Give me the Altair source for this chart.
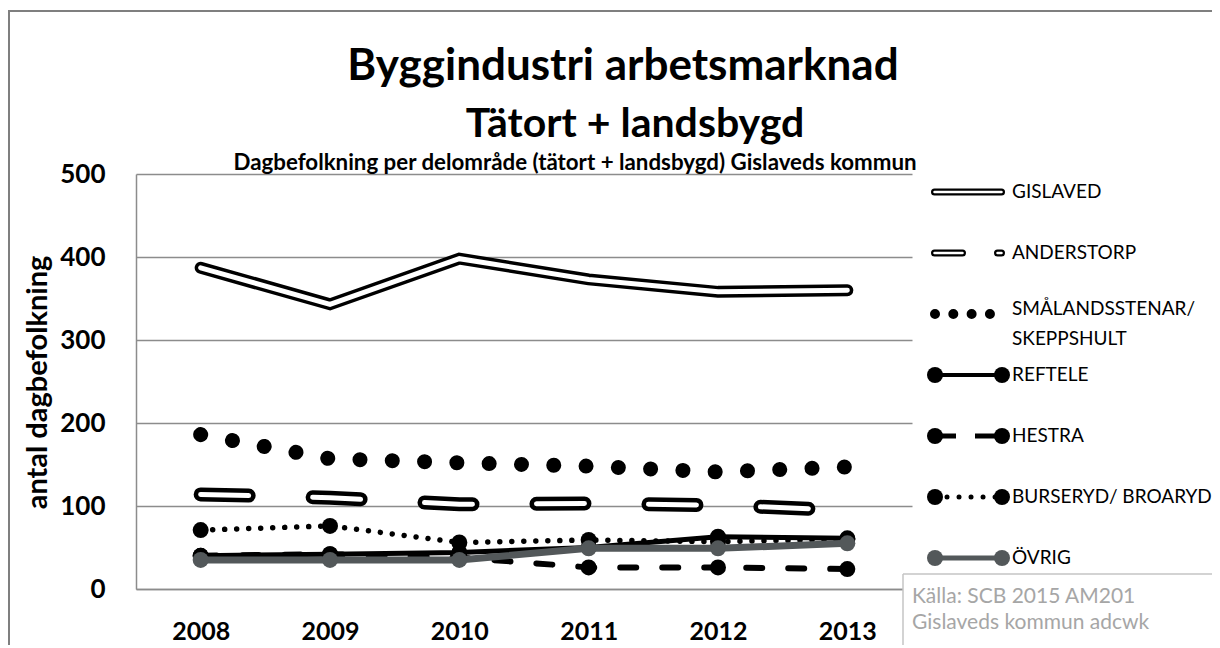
import altair as alt
import pandas as pd

# ---------------- data ----------------
years = ["2008", "2009", "2010", "2011", "2012", "2013"]
gislaved = [387, 343, 398, 373, 358, 360]
anderstorp = [114, 110, 102, 103, 101, 95]
smalandsstenar = [186, 157, 152, 148, 141, 147]
reftele = [40, 42, 44, 50, 63, 61]
hestra = [40, 42, 38, 26, 26, 24]
burseryd = [71, 76, 56, 59, 57, 60]
ovrig = [35, 35, 35, 49, 49, 55]

series_keys = ["GISLAVED", "ANDERSTORP", "SMÅLANDSSTENAR", "REFTELE", "HESTRA", "BURSERYD", "ÖVRIG"]
legend_labels = ["GISLAVED", "ANDERSTORP", "SMÅLANDSSTENAR/\nSKEPPSHULT", "REFTELE", "HESTRA",
                 "BURSERYD/ BROARYD", "ÖVRIG"]
y_ticks = [0, 100, 200, 300, 400, 500]

title_line1 = "Byggindustri arbetsmarknad"
title_line2 = "Tätort + landsbygd"
subtitle = "Dagbefolkning per delområde (tätort + landsbygd) Gislaveds kommun"
y_title = "antal dagbefolkning"
source_line1 = "Källa: SCB 2015 AM201"
source_line2 = "Gislaveds kommun adcwk"

values_by_series = [gislaved, anderstorp, smalandsstenar, reftele, hestra, burseryd, ovrig]
rows = []
for key, vals in zip(series_keys, values_by_series):
    for yr, v in zip(years, vals):
        rows.append({"series": key, "year": yr, "value": v})
df = pd.DataFrame(rows)
leg_df = pd.DataFrame({"series": series_keys, "label": legend_labels})
one = pd.DataFrame({"a": [0]})

FONT = "Lato"
BLACK = "#000000"
GREY = "#53585a"

# ---------------- scales / axes ----------------
X = alt.X("year:O", scale=alt.Scale(type="point", padding=0.5),
          axis=alt.Axis(title=None, labelAngle=0, labelFont=FONT, labelFontSize=25,
                        labelFontWeight="bold", labelColor=BLACK, labelPadding=42,
                        labelBaseline="middle", ticks=False, domainColor="#8c8c8c",
                        domainWidth=1.5, grid=False))
Y = alt.Y("value:Q", scale=alt.Scale(domain=[0, 500], nice=False),
          axis=alt.Axis(values=y_ticks, title=y_title, titleFont=FONT, titleFontSize=29,
                        titleFontWeight="bold", titleColor=BLACK, titleAngle=270,
                        titleX=-99, titleY=208, titleAlign="center", titleBaseline="middle",
                        labelFont=FONT, labelFontSize=26, labelFontWeight="bold",
                        labelColor=BLACK, labelPadding=31, ticks=False,
                        domainColor="#8c8c8c", domainWidth=1.5,
                        gridColor="#8c8c8c", gridWidth=1.5))

base = alt.Chart(df)


def sel(name):
    return base.transform_filter(alt.datum.series == name)


def line(name, **kw):
    return sel(name).mark_line(**kw).encode(x=X, y=Y)


def pts(name, color, size=256):
    return sel(name).mark_point(filled=True, shape="circle", size=size, color=color,
                                opacity=1, strokeWidth=0).encode(x=X, y=Y)


def hrule(x1, x2, y, color, width):
    return alt.Chart(one).mark_rule(color=color, strokeWidth=width).encode(
        x=alt.value(x1), x2=alt.value(x2), y=alt.value(y))


def vrule(x, y1, y2, color, width):
    return alt.Chart(one).mark_rule(color=color, strokeWidth=width).encode(
        x=alt.value(x), y=alt.value(y1), y2=alt.value(y2))


data_layers = alt.layer(
    hrule(-128, 1300, -163, "#7f7f7f", 2),
    vrule(-127, -164, 700, "#7f7f7f", 2),
    line("GISLAVED", color=BLACK, strokeWidth=12, strokeJoin="miter", strokeCap="round"),
    line("GISLAVED", color="white", strokeWidth=5, strokeJoin="miter", strokeCap="round"),
    line("ANDERSTORP", color=BLACK, strokeWidth=14, strokeCap="round", strokeDash=[48, 64]),
    line("ANDERSTORP", color="white", strokeWidth=5, strokeCap="round", strokeDash=[48, 64]),
    line("SMÅLANDSSTENAR", color=BLACK, strokeWidth=15, strokeCap="round", strokeDash=[0.01, 32.3]),
    line("REFTELE", color=BLACK, strokeWidth=5),
    pts("REFTELE", BLACK),
    line("HESTRA", color=BLACK, strokeWidth=6, strokeCap="round", strokeDash=[16, 26]),
    pts("HESTRA", BLACK),
    line("BURSERYD", color=BLACK, strokeWidth=5.5, strokeCap="round", strokeDash=[0.01, 12]),
    pts("BURSERYD", BLACK),
    line("ÖVRIG", color=GREY, strokeWidth=7),
    pts("ÖVRIG", GREY),
)

# ---------------- legend ----------------
YL = alt.Y("series:N", scale=alt.Scale(type="point", padding=0, domain=series_keys, range=[18, 384]),
           axis=None)
lbase = alt.Chart(leg_df)


def lsel(name):
    return lbase.transform_filter(alt.datum.series == name)


def lrule(name, x1, x2, **kw):
    return lsel(name).mark_rule(**kw).encode(x=alt.value(x1), x2=alt.value(x2), y=YL)


def lpt(name, xpos, color):
    return lsel(name).mark_point(filled=True, shape="circle", size=256, color=color,
                                 opacity=1, strokeWidth=0).encode(x=alt.value(xpos), y=YL)


src_fill = alt.Chart(one).mark_rect(fill="white").encode(
    x=alt.value(767), x2=alt.value(1300), y=alt.value(400), y2=alt.value(700))


def free_text(txt, x, y, size, weight="bold", color=BLACK, align="center"):
    return alt.Chart(one).mark_text(font=FONT, fontSize=size, fontWeight=weight, color=color,
                                    align=align, baseline="middle").encode(
        x=alt.value(x), y=alt.value(y), text=alt.value(txt))


single = lbase.transform_filter(alt.datum.series != "SMÅLANDSSTENAR").mark_text(
    font=FONT, fontSize=19, color=BLACK, align="left", baseline="middle").encode(
    x=alt.value(876), y=YL, text="label:N")
multi = lsel("SMÅLANDSSTENAR").mark_text(
    font=FONT, fontSize=19, color=BLACK, align="left", baseline="top", dy=-14,
    lineBreak="\n", lineHeight=30).encode(x=alt.value(876), y=YL, text="label:N")

legend_layers = alt.layer(
    src_fill,
    hrule(767, 1300, 400, "#c4c4c4", 1.5),
    vrule(767, 400, 700, "#c4c4c4", 1.5),
    free_text(source_line1, 776, 423, 21, weight="normal", color="#a6a6a6", align="left"),
    free_text(source_line2, 776, 449, 21, weight="normal", color="#a6a6a6", align="left"),
    lrule("GISLAVED", 798.5, 865.5, color=BLACK, strokeWidth=7, strokeCap="round"),
    lrule("GISLAVED", 798.5, 865.5, color="white", strokeWidth=2.5, strokeCap="round"),
    lrule("ANDERSTORP", 798.5, 865.5, color=BLACK, strokeWidth=7, strokeCap="round", strokeDash=[28, 35]),
    lrule("ANDERSTORP", 798.5, 865.5, color="white", strokeWidth=2.5, strokeCap="round", strokeDash=[28, 35]),
    lrule("SMÅLANDSSTENAR", 799, 855, color=BLACK, strokeWidth=10, strokeCap="round", strokeDash=[0.01, 18.3]),
    lrule("REFTELE", 799, 866, color=BLACK, strokeWidth=4),
    lpt("REFTELE", 799, BLACK), lpt("REFTELE", 866, BLACK),
    lrule("HESTRA", 799, 866, color=BLACK, strokeWidth=5, strokeDash=[21, 19]),
    lpt("HESTRA", 799, BLACK), lpt("HESTRA", 866, BLACK),
    lrule("BURSERYD", 799, 866, color=BLACK, strokeWidth=5, strokeCap="round", strokeDash=[0.01, 12]),
    lpt("BURSERYD", 799, BLACK), lpt("BURSERYD", 866, BLACK),
    lrule("ÖVRIG", 799, 866, color=GREY, strokeWidth=5),
    lpt("ÖVRIG", 799, GREY), lpt("ÖVRIG", 866, GREY),
    single, multi,
    free_text(title_line1, 487, -107, 44),
    free_text(title_line2, 499, -49, 41),
    free_text(subtitle, 439, -11, 22.3),
)

chart = alt.layer(data_layers, legend_layers).resolve_scale(y="independent").properties(
    width=776, height=415,
    autosize=alt.AutoSizeParams(type="none"),
    padding={"left": 128, "top": 166, "right": 300, "bottom": 56},
    background="white",
).configure_view(stroke=None)

chart.save("out.html", embed_options={"renderer": "svg", "actions": False})
